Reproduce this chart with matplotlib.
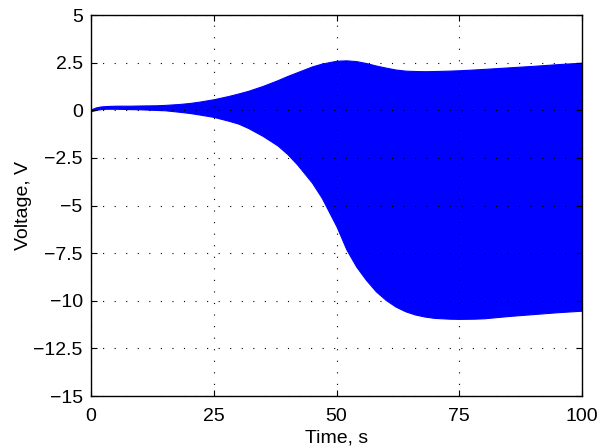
import matplotlib
matplotlib.use("Agg")
import matplotlib.pyplot as plt

# --- envelope of the oscillating voltage ---
t = [0, 1, 2, 3, 5, 8, 10, 13, 15, 18, 20, 22, 25, 28, 30, 32, 35, 38, 40,
     42, 45, 47, 50, 52, 54, 56, 58, 60, 62, 64, 66, 68, 70, 73, 75, 78, 80,
     85, 90, 95, 100]
v_upper = [0.05, 0.15, 0.2, 0.22, 0.24, 0.24, 0.25, 0.26, 0.28, 0.33, 0.38, 0.45,
           0.58, 0.75, 0.88, 1.02, 1.28, 1.58, 1.8, 2.0, 2.3, 2.45, 2.6, 2.62,
           2.58, 2.48, 2.35, 2.24, 2.14, 2.08, 2.06, 2.05, 2.06, 2.08, 2.1, 2.14,
           2.17, 2.25, 2.33, 2.42, 2.5]
v_lower = [-0.05, 0.02, 0.06, 0.08, 0.08, 0.06, 0.05, 0.02, 0.0, -0.08, -0.14, -0.22,
           -0.35, -0.55, -0.7, -0.93, -1.35, -1.85, -2.3, -2.85, -3.8, -4.6, -6.1,
           -7.3, -8.2, -8.9, -9.5, -9.95, -10.3, -10.55, -10.72, -10.83, -10.9,
           -10.94, -10.95, -10.94, -10.92, -10.8, -10.7, -10.6, -10.52]

xticks = [0, 25, 50, 75, 100]
yticks = [5, 2.5, 0, -2.5, -5, -7.5, -10, -12.5, -15]
ytick_labels = ['5', '2.5', '0', '\u22122.5', '\u22125', '\u22127.5', '\u221210', '\u221212.5', '\u221215']

plt.rcParams['font.family'] = ['Liberation Sans', 'DejaVu Sans']

fig = plt.figure(figsize=(5.99, 4.48), dpi=100)
ax = fig.add_axes([0.152, 0.116, 0.8196, 0.8505])

ax.fill_between(t, v_lower, v_upper, color=(0, 0, 1), linewidth=0.8, edgecolor=(0, 0, 1))

ax.set_xlim(0, 100)
ax.set_ylim(-15, 5)
ax.set_xticks(xticks)
ax.set_xticklabels([str(x) for x in xticks])
ax.set_yticks(yticks)
ax.set_yticklabels(ytick_labels)
ax.tick_params(direction='in', length=4, width=0.8, top=True, right=True,
               labelsize=14, colors='black')
ax.tick_params(axis='x', pad=8.5)
ax.tick_params(axis='y', pad=6)
ax.grid(True, color='black', linewidth=0.8, linestyle=(0, (1, 9.4)))
ax.set_axisbelow(False)
for s in ax.spines.values():
    s.set_linewidth(1.0)

ax.set_xlabel('Time, s', fontsize=14, labelpad=3)
ax.set_ylabel('Voltage, V', fontsize=14, labelpad=1)

fig.savefig('out.png', dpi=100)
